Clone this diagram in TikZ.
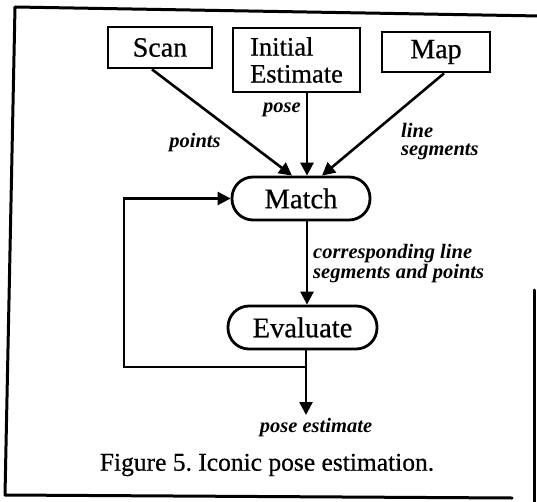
\documentclass[tikz,border=0pt]{standalone}
\usepackage{fontspec}
\setmainfont{Liberation Serif}
\newfontfamily\heavyserif{Liberation Serif}[FakeBold=0.6]
\usetikzlibrary{arrows.meta,calc}
\tikzset{
  boxnode/.style={draw, line width=2.8pt, inner sep=0pt, align=left,
    font=\heavyserif\fontsize{28}{25}\selectfont},
  termnode/.style={draw, line width=2.8pt, inner sep=0pt, rounded corners=21pt,
    font=\heavyserif\fontsize{28.5}{25}\selectfont},
  arr/.style={line width=2.6pt, -{Triangle[length=13pt,width=13pt]}},
  lbl/.style={inner sep=0pt, align=left, font=\fontsize{20.5}{18.5}\selectfont\bfseries\itshape},
  frameline/.style={line width=3pt, line cap=round, line join=round}
}
\begin{document}
\begin{tikzpicture}[x=1pt,y=-1pt]
\useasboundingbox (0,0) rectangle (537,502);
% frame
\draw[frameline] (540,16) -- (15,7) -- (5,495) -- (512,498);
\draw[frameline] (534,290) -- (534,505);
% boxes
\node[boxnode, minimum width=104pt, minimum height=41pt] (scan) at (160,47.5) {Scan};
\node[boxnode, minimum width=127pt, minimum height=64pt,
  font=\heavyserif\fontsize{26.5}{27}\selectfont] (init) at (296.5,60) {Initial\\Estimate};
\node[boxnode, minimum width=108pt, minimum height=40pt] (map) at (436,52) {Map};
\node[termnode, minimum width=138pt, minimum height=43pt] (match) at (301,198.5) {Match};
\node[termnode, minimum width=149pt, minimum height=43pt] (eval) at (302.5,327.5) {Evaluate};
% connectors
\draw[arr] ($(scan.south)+(-8,0)$) -- ($(match.north)+(-9,0)$);
\draw[arr] ($(init.south)+(10.5,0)$) -- ($(match.north)+(6,0)$);
\draw[arr] ($(map.south)+(8,0)$) -- ($(match.north)+(21,0)$);
\draw[arr] ($(match.south)+(6,0)$) -- ($(eval.north)+(4.5,0)$);
\coordinate (out) at (306,415);
\coordinate (j) at (306,367);
\draw[arr] ($(eval.south)+(3.5,0)$) -- (out);
\draw[arr] (j) -- (124,367) |- (match.west);
% labels
\node[lbl] (lpoints) at (195,143) {points};
\node[lbl, anchor=east] (lpose) at (301,110) {pose};
\node[lbl, anchor=west] (lline) at (401,141.5) {line\\segments};
\node[lbl, anchor=west] (lcorr) at (313,263.5) {corresponding line\\segments and points};
\node[lbl] (lest) at (316,428) {pose estimate};
\node[inner sep=0pt, font=\heavyserif\fontsize{25.5}{25}\selectfont] (caption) at (267,465) {Figure 5.\ Iconic pose estimation.};
\end{tikzpicture}
\end{document}
